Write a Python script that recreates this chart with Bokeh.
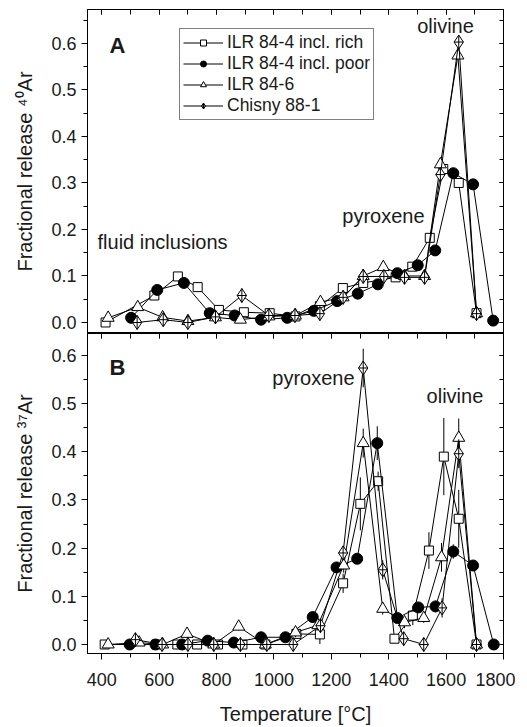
from bokeh.plotting import figure
from bokeh.models import (LinearAxis, SingleIntervalTicker, Range1d, Legend, LegendItem,
                          Label, PrintfTickFormatter)
from bokeh.layouts import column
from bokeh.embed import file_html
from bokeh.resources import INLINE

FONT = "Liberation Sans"
INK = "#1a1a1a"

# ---------------- Panel A: fractional release of 40Ar ----------------
a_rich_T = [413, 583, 665, 734, 808, 895, 985, 1075, 1160, 1240, 1311, 1424, 1482, 1543, 1590, 1644, 1706]
a_rich_v = [0.0, 0.058, 0.099, 0.076, 0.027, 0.022, 0.020, 0.013, 0.035, 0.074, 0.085, 0.097, 0.120, 0.182, 0.330, 0.300, 0.020]

a_poor_T = [502, 593, 686, 776, 863, 955, 1046, 1139, 1220, 1292, 1362, 1430, 1501, 1562, 1625, 1694, 1764]
a_poor_v = [0.010, 0.070, 0.085, 0.020, 0.015, 0.006, 0.010, 0.025, 0.046, 0.062, 0.082, 0.106, 0.123, 0.155, 0.321, 0.297, 0.004]

a_846_T = [422, 525, 612, 700, 796, 883, 982, 1075, 1162, 1241, 1311, 1381, 1455, 1525, 1580, 1641, 1706]
a_846_v = [0.010, 0.033, 0.011, 0.003, 0.011, 0.006, 0.013, 0.015, 0.044, 0.054, 0.100, 0.119, 0.100, 0.100, 0.340, 0.574, 0.020]

a_chi_T = [523, 614, 700, 796, 888, 982, 1073, 1160, 1241, 1311, 1383, 1455, 1525, 1580, 1644, 1706]
a_chi_v = [0.0, 0.006, 0.0, 0.012, 0.058, 0.015, 0.015, 0.019, 0.054, 0.099, 0.099, 0.097, 0.097, 0.318, 0.603, 0.019]

# ---------------- Panel B: fractional release of 37Ar ----------------
b_rich_T = [410, 590, 663, 732, 805, 890, 970, 1078, 1160, 1241, 1301, 1363, 1420, 1484, 1540, 1592, 1644, 1706]
b_rich_v = [0, 0, 0, 0, 0, 0, 0, 0.022, 0.021, 0.127, 0.292, 0.339, 0.012, 0.060, 0.195, 0.390, 0.261, 0.0]
b_rich_e = [0, 0, 0, 0, 0, 0, 0, 0.010, 0.020, 0.020, 0.055, 0.020, 0.008, 0.020, 0.038, 0.080, 0.060, 0]

b_poor_T = [497, 587, 680, 769, 860, 955, 1040, 1135, 1218, 1290, 1360, 1430, 1503, 1563, 1625, 1694, 1766]
b_poor_v = [0, 0, 0, 0.008, 0.004, 0.015, 0.015, 0.057, 0.160, 0.178, 0.418, 0.055, 0.077, 0.079, 0.193, 0.164, 0.0]
b_poor_e = [0, 0, 0, 0.003, 0.003, 0.005, 0.005, 0.008, 0.010, 0.010, 0.035, 0.010, 0.010, 0.012, 0.015, 0.010, 0]

b_846_T = [422, 530, 612, 697, 790, 877, 970, 1075, 1153, 1243, 1311, 1379, 1455, 1522, 1584, 1644, 1706]
b_846_v = [0, 0.004, 0, 0.022, 0, 0.037, 0, 0.025, 0.040, 0.164, 0.418, 0.074, 0.046, 0.055, 0.181, 0.429, 0.0]
b_846_e = [0, 0.003, 0, 0.005, 0, 0.008, 0, 0.010, 0.010, 0.015, 0.030, 0.012, 0.012, 0.010, 0.030, 0.040, 0]

b_chi_T = [517, 610, 700, 790, 883, 975, 1067, 1162, 1241, 1311, 1379, 1452, 1522, 1586, 1644, 1706]
b_chi_v = [0.010, 0, 0, 0, 0, 0, 0, 0.039, 0.190, 0.574, 0.155, 0.012, 0, 0.076, 0.396, 0.0]
b_chi_e = [0.005, 0, 0, 0, 0, 0, 0, 0.010, 0.015, 0.040, 0.020, 0.010, 0.003, 0.020, 0.030, 0]

series_names = ["ILR 84-4 incl. rich", "ILR 84-4 incl. poor", "ILR 84-6", "Chisny 88-1"]
x_range = (350, 1800)
a_y_range = (-0.0237, 0.673)
b_y_range = (-0.0187, 0.6456)

STYLES = [
    dict(marker="square", size=9, fill_color="white"),
    dict(marker="circle", size=11, fill_color="black"),
    dict(marker="triangle", size=12, fill_color="white"),
    dict(marker="diamond_cross", size=14, fill_color="white"),
]


def blank_axis(interval, tick_in):
    return LinearAxis(ticker=SingleIntervalTicker(interval=interval, num_minor_ticks=2),
                      major_tick_in=tick_in, major_tick_out=0, minor_tick_in=tick_in, minor_tick_out=0,
                      formatter=PrintfTickFormatter(format=""),
                      major_label_text_font_size="1px", major_label_standoff=0,
                      axis_line_color="black")


def make_fig(yr, frame_h, ylabel, bottom_labels):
    p = figure(frame_width=416, frame_height=frame_h,
               x_range=Range1d(*x_range), y_range=Range1d(*yr),
               output_backend="svg", toolbar_location=None,
               x_axis_location=None, y_axis_location="left",
               min_border_left=87, min_border_right=12,
               min_border_top=9 if not bottom_labels else 0,
               min_border_bottom=0 if not bottom_labels else 4)
    p.grid.grid_line_color = None
    p.outline_line_color = "black"
    p.outline_line_width = 1
    p.background_fill_color = "white"
    p.border_fill_color = "white"

    ya = p.yaxis[0]
    ya.ticker = SingleIntervalTicker(interval=0.1, num_minor_ticks=2)
    ya.formatter = PrintfTickFormatter(format="%.1f")
    ya.major_tick_out = 6
    ya.major_tick_in = 0
    ya.minor_tick_out = 4
    ya.minor_tick_in = 0
    ya.major_label_text_font = FONT
    ya.major_label_text_font_size = "18px"
    ya.major_label_text_color = INK
    ya.axis_label = ylabel
    ya.axis_label_text_font = FONT
    ya.axis_label_text_font_size = "20px"
    ya.axis_label_text_font_style = "normal"
    ya.axis_label_text_color = INK
    ya.axis_label_standoff = 12
    ya.major_label_standoff = 5
    ya.axis_line_color = "black"

    p.add_layout(blank_axis(0.1, 4), "right")
    p.add_layout(blank_axis(200, 5), "above")

    if bottom_labels:
        ba = LinearAxis(ticker=SingleIntervalTicker(interval=200, num_minor_ticks=2),
                        major_tick_in=0, major_tick_out=6, minor_tick_in=0, minor_tick_out=4,
                        major_label_text_font=FONT, major_label_text_font_size="18px",
                        major_label_text_color=INK, major_label_standoff=13,
                        axis_label="Temperature [°C]", axis_label_text_font=FONT,
                        axis_label_text_font_size="20px", axis_label_text_font_style="normal",
                        axis_label_text_color=INK, axis_label_standoff=14,
                        axis_line_color="black")
        p.add_layout(ba, "below")
    return p


def add_series(p, T, v, st, err=None):
    if err is not None:
        lo = [a - e for a, e in zip(v, err)]
        hi = [a + e for a, e in zip(v, err)]
        p.segment(x0=T, y0=lo, x1=T, y1=hi, line_color="black", line_width=1)
    ln = p.line(T, v, line_color="black", line_width=1)
    sc = p.scatter(T, v, marker=st["marker"], size=st["size"], fill_color=st["fill_color"],
                   line_color="black", line_width=1)
    return ln, sc


# Panel A
pA = make_fig(a_y_range, 324, "Fractional release \u2074\u2070Ar", False)
a_data = [(a_rich_T, a_rich_v), (a_poor_T, a_poor_v), (a_846_T, a_846_v), (a_chi_T, a_chi_v)]
items = []
for (T, v), st, name in zip(a_data, STYLES, series_names):
    ln, sc = add_series(pA, T, v, st)
    items.append(LegendItem(label=name, renderers=[ln, sc]))

legend = Legend(items=items, location=(92, 213), border_line_color="black", border_line_width=1,
                background_fill_color="white", background_fill_alpha=1,
                label_text_font=FONT, label_text_font_size="17.5px", label_text_color=INK,
                glyph_width=40, glyph_height=15, label_height=15, spacing=0,
                padding=3, label_standoff=4, margin=0)
pA.add_layout(legend)

for txt, x, y, size, style in [("A", 427, 0.596, "22px", "bold"),
                               ("fluid inclusions", 385, 0.174, "20px", "normal"),
                               ("pyroxene", 1238, 0.228, "20px", "normal"),
                               ("olivine", 1499, 0.637, "20px", "normal")]:
    pA.add_layout(Label(x=x, y=y, text=txt, text_font=FONT, text_font_size=size,
                        text_font_style=style, text_color=INK, text_baseline="alphabetic"))

# Panel B
pB = make_fig(b_y_range, 320, "Fractional release \u00b3\u2077Ar", True)
b_data = [(b_rich_T, b_rich_v, b_rich_e), (b_poor_T, b_poor_v, b_poor_e),
          (b_846_T, b_846_v, b_846_e), (b_chi_T, b_chi_v, b_chi_e)]
for (T, v, e), st in zip(b_data, STYLES):
    add_series(pB, T, v, st, e)

for txt, x, y, size, style in [("B", 427, 0.576, "22px", "bold"),
                               ("pyroxene", 994, 0.554, "20px", "normal"),
                               ("olivine", 1532, 0.515, "20px", "normal")]:
    pB.add_layout(Label(x=x, y=y, text=txt, text_font=FONT, text_font_size=size,
                        text_font_style=style, text_color=INK, text_baseline="alphabetic"))

layout = column(pA, pB, spacing=0)
open("out.html", "w").write(file_html(layout, INLINE))
